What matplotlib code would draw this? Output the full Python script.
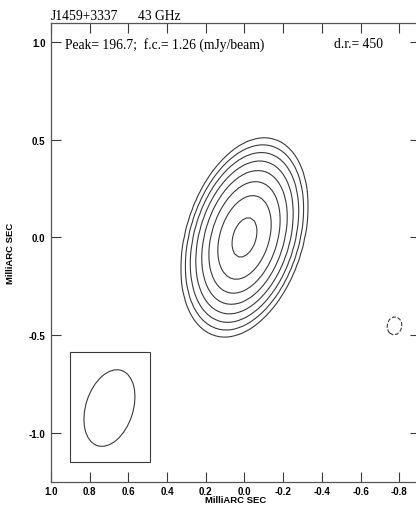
import numpy as np
import matplotlib
matplotlib.use("Agg")
import matplotlib.pyplot as plt
from matplotlib.patches import Ellipse, Rectangle
from matplotlib.transforms import ScaledTranslation

plt.rcParams['axes.unicode_minus'] = False

# ---- data ----
source_name = "J1459+3337"
freq_label = "43 GHz"
peak = 196.7          # mJy/beam
first_contour = 1.26  # mJy/beam
dyn_range = 450
level_factors = [-1, 1, 2, 4, 8, 16, 32, 64, 128]

# Gaussian components (x, y in mas; flux mJy/beam; sigma major/minor mas; PA deg)
comp_x = [0.0, -0.775]
comp_y = [0.0, -0.452]
comp_flux = [196.7, -1.5]
comp_sig_maj = [0.165, 0.080]
comp_sig_min = [0.095, 0.065]
comp_pa = [17.3, 10.0]

# restoring beam (FWHM, mas) and its position/box in the corner
beam_maj = 0.404
beam_min = 0.244
beam_pa = 18.0
beam_center = (0.698, -0.872)
beam_box_x = [0.902, 0.488]
beam_box_y = [-1.149, -0.587]

xticks = [1.0, 0.8, 0.6, 0.4, 0.2, 0.0, -0.2, -0.4, -0.6, -0.8]
xticklabels = ["1.0", "0.8", "0.6", "0.4", "0.2", "0.0", "-0.2", "-0.4", "-0.6", "-0.8"]
yticks = [1.0, 0.5, 0.0, -0.5, -1.0]
yticklabels = ["1.0", "0.5", "0.0", "-0.5", "-1.0"]
xlim = (1.0, -0.907)
ylim = (-1.25, 1.096)

# ---- model image ----
gx = np.arange(1.05, -0.95, -0.02)
gy = np.arange(-1.3, 1.15, 0.02)
X, Y = np.meshgrid(gx, gy)
img = np.zeros_like(X)
for x0, y0, f, smaj, smin, pa in zip(comp_x, comp_y, comp_flux, comp_sig_maj, comp_sig_min, comp_pa):
    t = np.deg2rad(pa)
    dx = X - x0
    dy = Y - y0
    u = -dx * np.sin(t) + dy * np.cos(t)
    v = dx * np.cos(t) + dy * np.sin(t)
    img += f * np.exp(-0.5 * ((u / smaj) ** 2 + (v / smin) ** 2))

levels = [first_contour * k for k in level_factors]
styles = ['dashed' if lv < 0 else 'solid' for lv in levels]

# ---- figure ----
fig = plt.figure(figsize=(4.16, 5.10), dpi=100)
ax = fig.add_axes([51 / 416, 27 / 510, 369 / 416, 459 / 510])
line_col = '#3a3a3a'
ax.contour(X, Y, img, levels=levels, colors=line_col, linewidths=0.8,
           linestyles=styles)

ax.add_patch(Rectangle((beam_box_x[0], beam_box_y[0]),
                       beam_box_x[1] - beam_box_x[0], beam_box_y[1] - beam_box_y[0],
                       fill=False, edgecolor=line_col, lw=0.8))
ax.add_patch(Ellipse(beam_center, width=beam_min, height=beam_maj, angle=beam_pa,
                     fill=False, edgecolor=line_col, lw=0.8))

ax.set_xlim(*xlim)
ax.set_ylim(*ylim)
ax.set_xticks(xticks)
ax.set_xticklabels(xticklabels)
ax.set_yticks(yticks)
ax.set_yticklabels(yticklabels)
tick_font = dict(family='Liberation Sans', weight='bold', size=7)
for lab in ax.get_xticklabels():
    lab.set(**tick_font)
    lab.set_transform(lab.get_transform() + ScaledTranslation(-3.5 / 72, 0, fig.dpi_scale_trans))
for lab in ax.get_yticklabels():
    lab.set(**tick_font)
ax.tick_params(direction='in', length=7.5, width=0.8, color=line_col,
               top=True, right=True, pad=4)
ax.tick_params(axis='x', pad=3)
for s in ax.spines.values():
    s.set_color('#555555')
    s.set_linewidth(0.9)

ax.set_xlabel("MilliARC SEC", fontfamily='Liberation Sans', fontweight='bold',
              fontsize=6.8, labelpad=-1)
ax.set_ylabel("MilliARC SEC", fontfamily='Liberation Sans', fontweight='bold',
              fontsize=6.8, labelpad=10)

serif = 'Liberation Serif'
fs = 9.8
fig.text(51 / 416, 1 - 20.5 / 510, source_name, family=serif, fontsize=fs, ha='left', va='baseline')
fig.text(137.5 / 416, 1 - 20.5 / 510, freq_label, family=serif, fontsize=fs, ha='left', va='baseline')
fig.text(65 / 416, 1 - 48.5 / 510,
         f"Peak= {peak};  f.c.= {first_contour} (mJy/beam)",
         family=serif, fontsize=fs, ha='left', va='baseline')
fig.text(334 / 416, 1 - 48.5 / 510, f"d.r.= {dyn_range}",
         family=serif, fontsize=fs, ha='left', va='baseline')

fig.savefig("out.png", dpi=100)
